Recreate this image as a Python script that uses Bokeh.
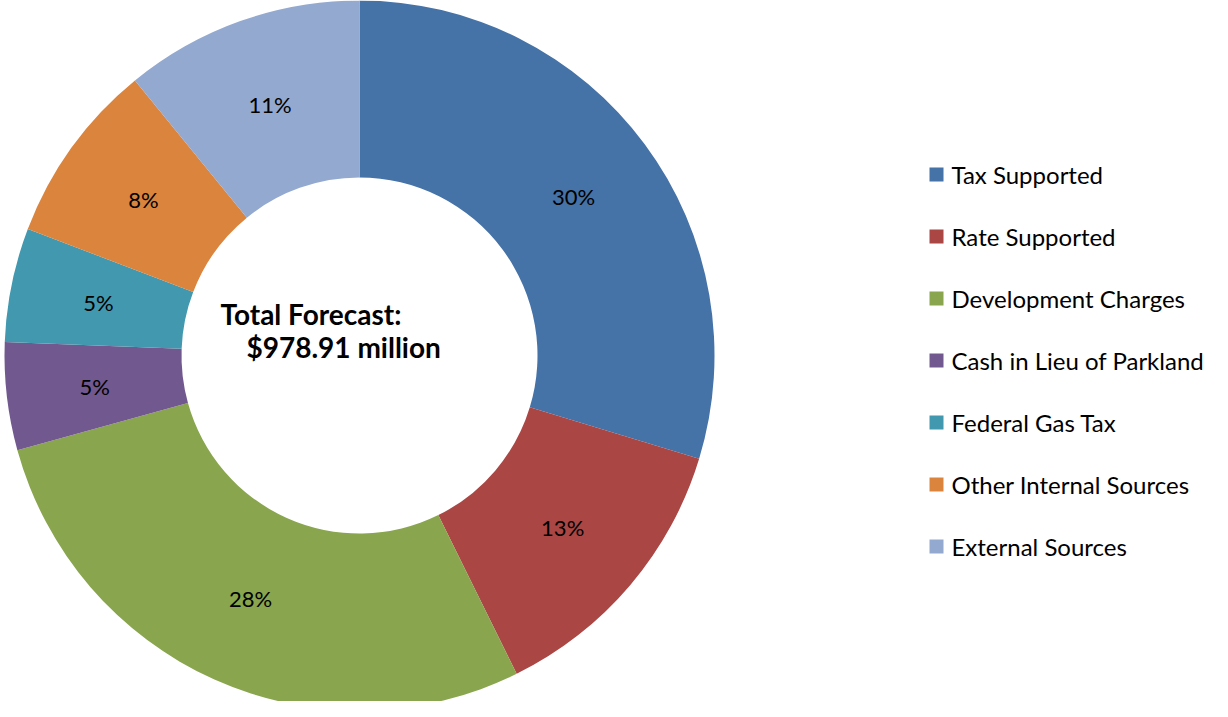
import numpy as np
from bokeh.plotting import figure
from bokeh.models import ColumnDataSource
from bokeh.core.properties import value
from bokeh.embed import file_html
from bokeh.resources import INLINE

categories = ["Tax Supported", "Rate Supported", "Development Charges", " Cash in Lieu of Parkland",
              "Federal Gas Tax", "Other Internal Sources", "External Sources"]
shares = [29.7, 13.0, 28.0, 4.9, 5.2, 8.3, 10.9]
labels = ["30%", "13%", "28%", "5%", "5%", "8%", "11%"]
colors = ["#4572A7", "#AA4643", "#89A54E", "#71588F", "#4198AF", "#DB843D", "#93A9CF"]
center_title = ["Total Forecast:", "$978.91 million"]

W, H = 1212, 701
FONT = "Lato"

p = figure(width=W, height=H, x_range=(0, W), y_range=(0, H), output_backend="svg",
           toolbar_location=None, min_border=0)
p.axis.visible = False
p.grid.visible = False
p.outline_line_color = None
p.background_fill_color = "white"

cx, cy = 359, H - (363 - 8)
r_out, r_in = 355, 178

vals = np.array(shares)
frac = vals / vals.sum()
cum = np.concatenate([[0], np.cumsum(frac)])
start = np.pi / 2 - 2 * np.pi * cum[:-1]
end = np.pi / 2 - 2 * np.pi * cum[1:]
mid = (start + end) / 2
r_lab = (r_out + r_in) / 2

src = ColumnDataSource(dict(start=start, end=end, color=colors, label=labels,
                            lx=cx + r_lab * np.cos(mid), ly=cy + r_lab * np.sin(mid)))
p.annular_wedge(x=cx, y=cy, inner_radius=r_in, outer_radius=r_out, start_angle="start",
                end_angle="end", direction="clock", fill_color="color", line_color="white",
                line_width=0, source=src)
p.text(x="lx", y="ly", text="label", source=src, text_align="center", text_baseline="middle",
       text_font=value(FONT), text_font_size="22px", text_color="black")

p.text(x=[228 - 8, 254 - 8], y=[H - (321 - 8), H - (354 - 8)], text=center_title,
       text_align="left", text_baseline="middle", text_font=value(FONT),
       text_font_size="28px", text_font_style="bold", text_color="black")

ly = [H - (182 + 62 * i - 8) for i in range(len(categories))]
p.scatter(x=[944 - 8] * len(categories), y=ly, marker="square", size=14, fill_color=colors,
          line_color=None)
p.text(x=[959 - 8] * len(categories), y=ly, text=categories, text_align="left",
       text_baseline="middle", text_font=value(FONT), text_font_size="24px", text_color="black")

open("out.html", "w").write(file_html(p, INLINE))
